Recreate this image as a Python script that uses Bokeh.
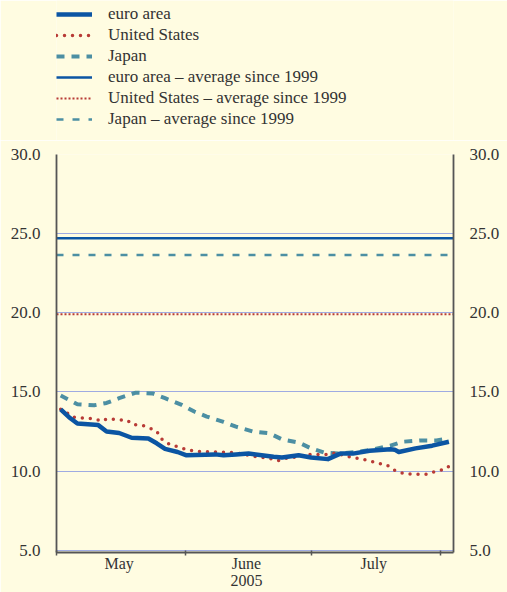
import pandas as pd
from bokeh.plotting import figure
from bokeh.layouts import column
from bokeh.models import (Range1d, LinearAxis, FixedTicker, NumeralTickFormatter,
                          Legend, LegendItem)
from bokeh.embed import file_html
from bokeh.resources import INLINE

# ---------------- data ----------------
euro_dates = ["2005-05-02", "2005-05-04", "2005-05-06", "2005-05-11", "2005-05-13",
              "2005-05-16", "2005-05-19", "2005-05-23", "2005-05-25", "2005-05-27",
              "2005-05-30", "2005-06-01", "2005-06-08", "2005-06-10", "2005-06-13",
              "2005-06-16", "2005-06-22", "2005-06-24", "2005-06-28", "2005-07-01",
              "2005-07-05", "2005-07-08", "2005-07-11", "2005-07-15", "2005-07-20",
              "2005-07-21", "2005-07-22", "2005-07-26", "2005-07-30", "2005-08-03"]
euro_vals = [13.9, 13.4, 13.0, 12.9, 12.5,
             12.4, 12.1, 12.05, 11.75, 11.4,
             11.2, 11.0, 11.05, 11.0, 11.05,
             11.1, 10.9, 10.85, 11.0, 10.85,
             10.75, 11.1, 11.1, 11.28, 11.37,
             11.35, 11.2, 11.43, 11.6, 11.85]

us_dates = ["2005-05-02", "2005-05-04", "2005-05-05", "2005-05-10", "2005-05-12",
            "2005-05-13", "2005-05-18", "2005-05-19", "2005-05-22", "2005-05-23",
            "2005-05-25", "2005-05-26", "2005-05-28", "2005-05-30", "2005-06-01",
            "2005-06-03", "2005-06-09", "2005-06-13", "2005-06-15", "2005-06-18",
            "2005-06-21", "2005-06-23", "2005-06-25", "2005-06-29", "2005-07-01",
            "2005-07-05", "2005-07-07", "2005-07-09", "2005-07-11", "2005-07-13",
            "2005-07-15", "2005-07-17", "2005-07-19", "2005-07-21", "2005-07-23",
            "2005-07-25", "2005-07-27", "2005-07-29", "2005-07-31", "2005-08-02",
            "2005-08-03"]
us_vals = [13.9, 13.6, 13.4, 13.3, 13.15,
           13.3, 13.2, 12.95, 12.85, 12.75,
           12.53, 12.06, 11.7, 11.53, 11.37,
           11.25, 11.2, 11.15, 11.05, 10.9,
           10.8, 10.65, 10.8, 10.95, 11.05,
           11.05, 11.15, 10.95, 10.85, 10.75,
           10.65, 10.48, 10.4, 10.05, 9.85,
           9.8, 9.8, 9.8, 10.0, 10.1,
           10.3]

jp_dates = ["2005-05-02", "2005-05-06", "2005-05-10", "2005-05-13", "2005-05-16",
            "2005-05-20", "2005-05-24", "2005-05-27", "2005-05-31", "2005-06-03",
            "2005-06-06", "2005-06-10", "2005-06-13", "2005-06-17", "2005-06-21",
            "2005-06-24", "2005-06-28", "2005-07-01", "2005-07-04", "2005-07-08",
            "2005-07-12", "2005-07-16", "2005-07-20", "2005-07-23", "2005-07-27",
            "2005-07-31", "2005-08-03"]
jp_vals = [14.77, 14.22, 14.15, 14.3, 14.6,
           14.95, 14.9, 14.6, 14.18, 13.76,
           13.44, 13.1, 12.8, 12.5, 12.38,
           12.0, 11.8, 11.43, 11.17, 11.1,
           11.2, 11.37, 11.6, 11.85, 11.93,
           11.93, 12.05]

avg_dates = ["2005-05-01", "2005-08-04"]
euro_avg = 24.7
us_avg = 19.9
jp_avg = 23.65

month_starts = ["2005-05-01", "2005-06-01", "2005-07-01", "2005-08-01"]
month_mids = ["2005-05-16", "2005-06-15 12:00", "2005-07-16"]
month_labels = ["May", "June\n2005", "July"]
y_ticks = [5, 10, 15, 20, 25, 30]
legend_labels = ["euro area", "United States", "Japan",
                 "euro area \u2013 average since 1999",
                 "United States \u2013 average since 1999",
                 "Japan \u2013 average since 1999"]

# ---------------- styling ----------------
BG = "#fffce1"
GRID = "#9fabe2"
EURO = "#0b55a3"
US = "#b83b36"
JP = "#4c8fa3"
TXT = "#333333"
FONT = "Liberation Serif"

STYLES = [
    dict(line_color=EURO, line_width=4.5, line_join="round"),
    dict(line_color=US, line_width=3.5, line_dash="0 8", line_cap="round"),
    dict(line_color=JP, line_width=4, line_dash="8 7"),
    dict(line_color=EURO, line_width=2.5),
    dict(line_color=US, line_width=2, line_dash="2 2"),
    dict(line_color=JP, line_width=2.5, line_dash="7 9"),
]


def ms(d):
    return pd.Timestamp(d).value / 1e6


# ---------------- legend strip ----------------
TOP_H = 140
lg = figure(width=507, height=TOP_H, output_backend="svg", toolbar_location=None,
            x_axis_type=None, y_axis_type=None,
            x_range=Range1d(0, 1), y_range=Range1d(0, 1),
            min_border_left=0, min_border_right=0, min_border_top=0,
            min_border_bottom=0)
lg.background_fill_color = BG
lg.border_fill_color = BG
lg.outline_line_color = None
lg.grid.visible = False
# legend proxies (kept outside the visible range)
proxies = [lg.line([5, 6], [5, 5], **st) for st in STYLES]
legend = Legend(items=[LegendItem(label=lab, renderers=[r])
                       for lab, r in zip(legend_labels, proxies)],
                location=(0, 11))
legend.background_fill_alpha = 0
legend.border_line_color = None
legend.padding = 0
legend.margin = 0
legend.spacing = 1
legend.glyph_width = 36
legend.glyph_height = 20
legend.label_height = 20
legend.label_standoff = 16
legend.label_text_font = FONT
legend.label_text_font_size = "17px"
legend.label_text_color = TXT
lg.add_layout(legend, "center")

# ---------------- chart ----------------
x_start = ms("2005-05-01")
x_end = ms("2005-08-04") + 0.1 * 86400000

p = figure(width=507, height=592 - TOP_H, output_backend="svg", toolbar_location=None,
           x_axis_type=None, y_axis_location=None,
           x_range=Range1d(x_start, x_end), y_range=Range1d(4.85, 30),
           min_border_left=56, min_border_right=54, min_border_top=154 - TOP_H,
           min_border_bottom=40)
p.background_fill_color = BG
p.border_fill_color = BG
p.outline_line_color = None

p.line(pd.to_datetime(avg_dates), [euro_avg] * 2, **STYLES[3])
p.line(pd.to_datetime(avg_dates), [us_avg] * 2, **STYLES[4])
p.line(pd.to_datetime(avg_dates), [jp_avg] * 2, **STYLES[5])
p.line(pd.to_datetime(jp_dates), jp_vals, **STYLES[2])
p.line(pd.to_datetime(us_dates), us_vals, **STYLES[1])
p.line(pd.to_datetime(euro_dates), euro_vals, **STYLES[0])


def yaxis():
    ax = LinearAxis(ticker=FixedTicker(ticks=y_ticks),
                    formatter=NumeralTickFormatter(format="0.0"))
    ax.axis_line_color = "#555555"
    ax.axis_line_width = 1.8
    ax.major_tick_line_color = None
    ax.minor_tick_line_color = None
    ax.major_label_text_font = FONT
    ax.major_label_text_font_size = "17px"
    ax.major_label_text_color = TXT
    ax.major_label_standoff = 10
    return ax


p.add_layout(yaxis(), "left")
p.add_layout(yaxis(), "right")

xa = LinearAxis(ticker=FixedTicker(ticks=[ms(d) for d in month_mids],
                                   minor_ticks=[ms(d) for d in month_starts]))
xa.major_label_overrides = {ms(d): lab for d, lab in zip(month_mids, month_labels)}
xa.axis_line_color = "#555555"
xa.axis_line_width = 1.8
xa.major_tick_line_color = None
xa.major_tick_out = 0
xa.major_tick_in = 0
xa.minor_tick_line_color = "#555555"
xa.minor_tick_line_width = 1.5
xa.minor_tick_in = 2
xa.minor_tick_out = 3
xa.major_label_text_font = FONT
xa.major_label_text_font_size = "16px"
xa.major_label_text_line_height = 1.05
xa.major_label_text_color = TXT
xa.major_label_standoff = -1
p.add_layout(xa, "below")

p.ygrid.ticker = FixedTicker(ticks=y_ticks)
p.ygrid.grid_line_color = GRID
p.ygrid.grid_line_width = 1
p.xgrid.ticker = FixedTicker(ticks=[ms(d) for d in month_starts[1:]])
p.xgrid.grid_line_color = GRID
p.xgrid.grid_line_width = 1

layout = column(lg, p, spacing=0)
open("out.html", "w").write(file_html(layout, INLINE))
